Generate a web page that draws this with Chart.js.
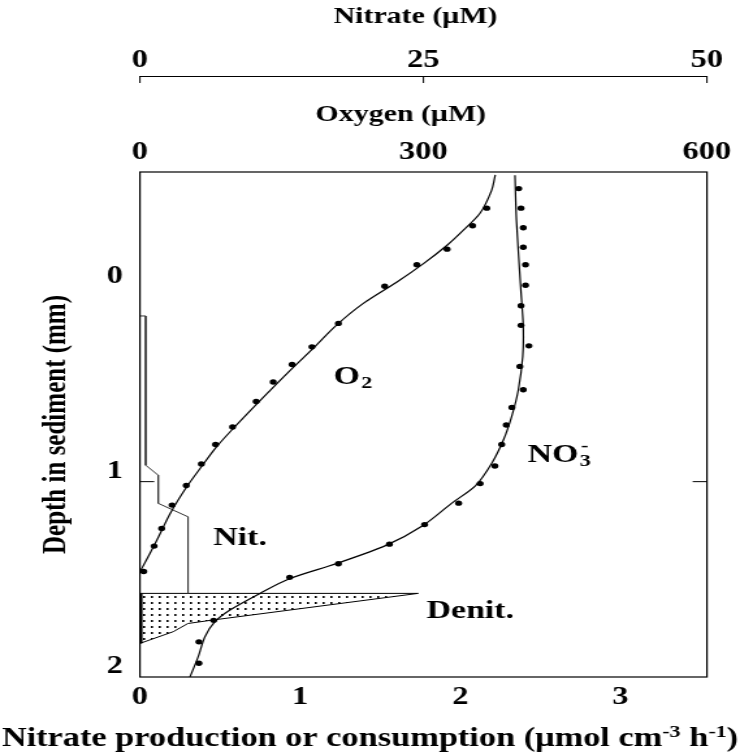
<!DOCTYPE html>
<html>
<head>
<meta charset="utf-8">
<title>Nitrate and oxygen profiles in sediment</title>
<script src="https://cdn.jsdelivr.net/npm/chart.js@4.4.1/dist/chart.umd.min.js"></script>
<style>
  html, body { margin: 0; padding: 0; background: #fff; overflow: hidden; }
  /* the original figure is stretched sideways, so draw it narrow and widen it */
  #wrap { width: 569px; height: 754px; transform: scaleX(1.3005); transform-origin: 0 0; }
</style>
</head>
<body>
<div id="wrap"><canvas id="chart"></canvas></div>
<script>
// oxygen (uM) vs depth (mm): measured points
const oxyObsConc  = [367, 352, 325, 293, 259, 210, 182, 161, 141, 123, 98, 80, 65, 49, 34, 23, 15, 4];
const oxyObsDepth = [-0.40, -0.31, -0.19, -0.11, 0.00, 0.19, 0.31, 0.40, 0.49, 0.59, 0.72, 0.81, 0.91, 1.02, 1.12, 1.24, 1.33, 1.46];
// oxygen model curve
const oxyFitConc  = [376, 372, 360, 342, 325, 300, 272, 236, 208, 183, 159, 131, 102, 81, 65, 49, 32, 18, 2, 0];
const oxyFitDepth = [-0.57, -0.49, -0.375, -0.286, -0.21, -0.116, -0.022, 0.089, 0.199, 0.319, 0.43, 0.566, 0.711, 0.822, 0.924, 1.03, 1.163, 1.299, 1.444, 1.455];

// nitrate (uM) vs depth (mm): measured points
const no3ObsConc  = [33.4, 33.6, 33.8, 33.8, 34.0, 34.0, 33.6, 33.6, 34.3, 33.5, 33.8, 32.8, 32.3, 31.9, 31.3, 30.0, 28.1, 25.1, 22.0, 17.5, 13.2, 6.5, 5.2, 5.2];
const no3ObsDepth = [-0.50, -0.40, -0.30, -0.20, -0.11, -0.005, 0.10, 0.20, 0.305, 0.41, 0.53, 0.62, 0.71, 0.81, 0.92, 1.01, 1.11, 1.22, 1.32, 1.42, 1.49, 1.71, 1.82, 1.93];
// nitrate model curve
const no3FitConc  = [33.07, 33.2, 33.57, 33.8, 33.75, 33.36, 32.77, 32.04, 31.01, 29.6, 27.5, 25.0, 21.75, 17.34, 13.23, 10.58, 7.94, 6.61, 5.73, 5.14, 4.41];
const no3FitDepth = [-0.568, -0.338, 0.003, 0.208, 0.361, 0.532, 0.668, 0.788, 0.907, 1.02, 1.11, 1.223, 1.325, 1.419, 1.496, 1.572, 1.657, 1.717, 1.794, 1.896, 2.0];

// nitrification rate (umol cm-3 h-1), step profile
const nitRate  = [0, 0.036, 0.036, 0.114, 0.114, 0.30, 0.30];
const nitDepth = [0.152, 0.152, 0.916, 0.967, 1.111, 1.18, 1.572];
// denitrification rate, closed outline of the dotted area
const denitRate  = [0, 1.737, 0.458, 0.30, 0.208, 0, 0];
const denitDepth = [1.572, 1.572, 1.708, 1.726, 1.768, 1.828, 1.572];

// axes
const rateTicks = [0, 1, 2, 3];
const oxyTicks = [0, 300, 600];
const nitrateTicks = [0, 25, 50];
const depthTicks = [0, 1, 2];

const serif = "'Liberation Serif', 'Times New Roman', serif";
const bold = size => 'bold ' + size + 'px ' + serif;
const toPoints = (xs, ys) => xs.map((v, i) => ({ x: v, y: ys[i] }));

Chart.defaults.font.family = serif;
Chart.defaults.font.weight = 'bold';
Chart.defaults.color = '#000';

const canvas = document.getElementById('chart');

// dotted fill for the denitrification zone
function dotPattern() {
    const c = document.createElement('canvas');
    c.width = 6;
    c.height = 6;
    const g = c.getContext('2d');
    g.fillStyle = '#000';
    g.fillRect(2, 2, 1.6, 2);
    return canvas.getContext('2d').createPattern(c, 'repeat');
}

// text labels, frame and inward ticks
const extras = {
    id: 'extras',
    afterDraw(chart) {
        const ctx = chart.ctx;
        const a = chart.chartArea;
        const sx = chart.scales.x, sy = chart.scales.y;
        const so = chart.scales.xOxy, sn = chart.scales.xNit;
        ctx.save();
        ctx.strokeStyle = '#000';
        ctx.lineWidth = 1.2;
        ctx.strokeRect(a.left, a.top, a.right - a.left, a.bottom - a.top);

        ctx.lineWidth = 1;
        nitrateTicks.forEach(v => {
            const px = sn.getPixelForValue(v);
            ctx.beginPath();
            ctx.moveTo(px, sn.bottom);
            ctx.lineTo(px, sn.bottom + 7);
            ctx.stroke();
        });
        const py = sy.getPixelForValue(1);
        ctx.beginPath();
        ctx.moveTo(a.left, py); ctx.lineTo(a.left + 11, py);
        ctx.moveTo(a.right, py); ctx.lineTo(a.right - 11, py);
        ctx.stroke();

        // heavy left edge of the denit area
        ctx.lineWidth = 2;
        ctx.beginPath();
        ctx.moveTo(sx.getPixelForValue(0) + 1, sy.getPixelForValue(denitDepth[0]));
        ctx.lineTo(sx.getPixelForValue(0) + 1, sy.getPixelForValue(denitDepth[5]));
        ctx.stroke();

        ctx.fillStyle = '#000';
        ctx.textBaseline = 'middle';

        // top axis titles
        ctx.textAlign = 'center';
        ctx.font = bold(23);
        ctx.fillText('Nitrate (\u03bcM)', sn.getPixelForValue(24.3), 17);
        ctx.fillText('Oxygen (\u03bcM)', so.getPixelForValue(276), 115);

        ctx.textAlign = 'left';
        // O2
        let x = so.getPixelForValue(205), y = sy.getPixelForValue(0.465);
        ctx.font = bold(26);
        ctx.fillText('O', x, y);
        let w = ctx.measureText('O').width;
        ctx.font = bold(17);
        ctx.fillText('2', x + w + 1, y + 6);

        // NO3-
        x = sn.getPixelForValue(34.2); y = sy.getPixelForValue(0.864);
        ctx.font = bold(26);
        ctx.fillText('NO', x, y);
        w = ctx.measureText('NO').width;
        ctx.font = bold(17);
        ctx.fillText('3', x + w + 1, y + 7);
        ctx.fillText('-', x + w + 2, y - 8);

        // Nit. / Denit.
        ctx.font = bold(26);
        ctx.fillText('Nit.', sx.getPixelForValue(0.458), sy.getPixelForValue(1.29));
        ctx.fillText('Denit.', sx.getPixelForValue(1.79), sy.getPixelForValue(1.666));

        // x title with superscripts
        const parts = [
            ['Nitrate production or consumption (\u03bcmol cm', 26.4, 0],
            ['-3', 17, -9],
            [' h', 26.4, 0],
            ['-1', 17, -9],
            [')', 26.4, 0]
        ];
        ctx.textBaseline = 'alphabetic';
        let total = 0;
        parts.forEach(p => { ctx.font = bold(p[1]); total += ctx.measureText(p[0]).width; });
        x = chart.width / 2 - total / 2;
        parts.forEach(p => {
            ctx.font = bold(p[1]);
            ctx.fillText(p[0], x, 746 + p[2]);
            x += ctx.measureText(p[0]).width;
        });

        // y title
        ctx.translate(44, (a.top + a.bottom) / 2);
        ctx.rotate(-Math.PI / 2);
        ctx.textAlign = 'center';
        ctx.textBaseline = 'middle';
        ctx.font = bold(25);
        ctx.fillText('Depth in sediment (mm)', 0, 0);
        ctx.restore();
    }
};

const tickFont = { size: 25, weight: 'bold' };
const noGrid = { display: false, drawTicks: false };

new Chart(canvas, {
    type: 'scatter',
    data: {
        datasets: [
            { label: 'O2', data: toPoints(oxyObsConc, oxyObsDepth), xAxisID: 'xOxy',
              pointRadius: 2.7, pointBackgroundColor: '#000', pointBorderWidth: 0, order: 1 },
            { label: 'NO3', data: toPoints(no3ObsConc, no3ObsDepth), xAxisID: 'xNit',
              pointRadius: 2.7, pointBackgroundColor: '#000', pointBorderWidth: 0, order: 1 },
            { label: 'O2 model', data: toPoints(oxyFitConc, oxyFitDepth), xAxisID: 'xOxy',
              showLine: true, borderColor: '#000', borderWidth: 1.2, pointRadius: 0, tension: 0.3, order: 2 },
            { label: 'NO3 model', data: toPoints(no3FitConc, no3FitDepth), xAxisID: 'xNit',
              showLine: true, borderColor: '#000', borderWidth: 1.2, pointRadius: 0, tension: 0.3, order: 2 },
            { label: 'Nit.', data: toPoints(nitRate, nitDepth), xAxisID: 'x',
              showLine: true, borderColor: '#333', borderWidth: 1, pointRadius: 0, tension: 0, order: 3 },
            { label: 'Denit.', data: toPoints(denitRate, denitDepth), xAxisID: 'x',
              showLine: true, fill: 'shape', backgroundColor: dotPattern(), borderColor: '#000',
              borderWidth: 1, pointRadius: 0, tension: 0, order: 4 }
        ]
    },
    options: {
        responsive: true,
        maintainAspectRatio: false,
        animation: false,
        layout: { padding: { left: 0, right: 25.4, top: 0, bottom: 0 } },
        plugins: { legend: { display: false }, tooltip: { enabled: false } },
        scales: {
            x: {
                type: 'linear', position: 'bottom', min: 0, max: 3.54,
                afterFit: s => { s.height = 77; },
                afterBuildTicks: s => { s.ticks = rateTicks.map(v => ({ value: v })); },
                border: { display: false }, grid: noGrid,
                ticks: { padding: 6, font: tickFont, color: '#000', maxRotation: 0 }
            },
            xOxy: {
                type: 'linear', position: 'top', min: 0, max: 600, weight: 1,
                afterFit: s => { s.height = 96; },
                afterBuildTicks: s => { s.ticks = oxyTicks.map(v => ({ value: v })); },
                border: { display: false }, grid: noGrid,
                ticks: { padding: 4, font: tickFont, color: '#000', maxRotation: 0 }
            },
            xNit: {
                type: 'linear', position: 'top', min: 0, max: 50, weight: 2,
                afterFit: s => { s.height = 76; },
                afterBuildTicks: s => { s.ticks = nitrateTicks.map(v => ({ value: v })); },
                border: { display: true, color: '#000', width: 1 }, grid: noGrid,
                ticks: { padding: 0, font: tickFont, color: '#000', maxRotation: 0 }
            },
            y: {
                type: 'linear', reverse: true, min: -0.585, max: 2.0,
                afterFit: s => { s.width = 107.6; },
                afterBuildTicks: s => { s.ticks = depthTicks.map(v => ({ value: v })); },
                border: { display: false }, grid: noGrid,
                ticks: { padding: 13, labelOffset: -10, font: tickFont, color: '#000' }
            }
        }
    },
    plugins: [extras]
});
</script>
</body>
</html>
